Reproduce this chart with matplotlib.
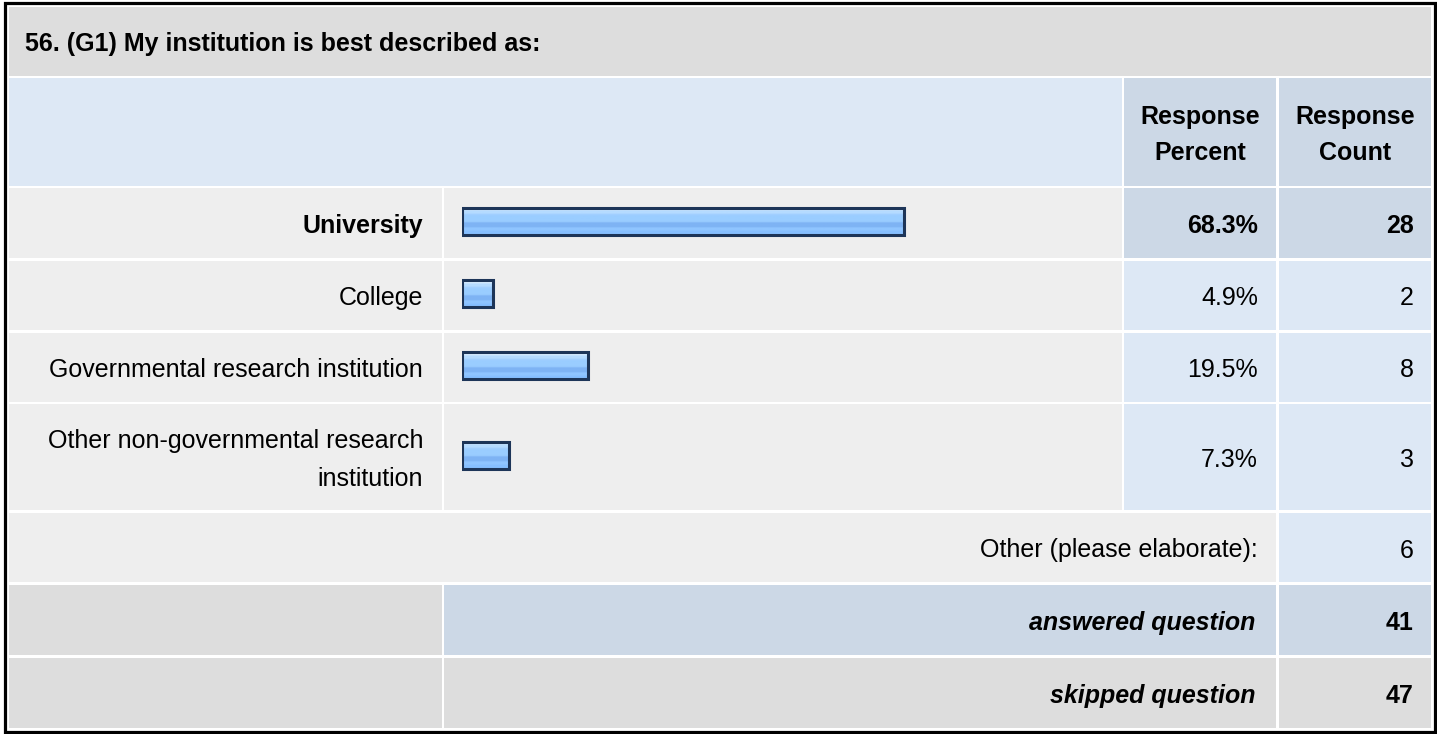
import matplotlib
matplotlib.use("Agg")
import matplotlib.pyplot as plt
from matplotlib.patches import Rectangle
import numpy as np

# ---- data ----
title = "56. (G1) My institution is best described as:"
categories = ["University", "College", "Governmental research institution",
              "Other non-governmental research\ninstitution"]
percents = [68.3, 4.9, 19.5, 7.3]
counts = [28, 2, 8, 3]
highlight = [True, False, False, False]
other_label = "Other (please elaborate):"
other_count = 6
answered = 41
skipped = 47
header_percent = "Response\nPercent"
header_count = "Response\nCount"

# ---- style ----
W, H = 1437, 734
FONT = "Liberation Sans"
FS = 18
GRAY = "#dddddd"
LIGHT = "#eeeeee"
BLUE_L = "#dde8f5"
BLUE_D = "#ccd8e6"
NAVY = "#1d3558"
DY = 3  # text vertical offset

plt.rcParams['font.family'] = [FONT, 'DejaVu Sans']

fig = plt.figure(figsize=(W / 100, H / 100), dpi=100)
fig.patch.set_facecolor("white")
ax = fig.add_axes([0, 0, 1, 1])
ax.set_xlim(0, W)
ax.set_ylim(H, 0)
ax.axis("off")


def cell(x0, x1, y0, y1, color):
    ax.add_patch(Rectangle((x0, y0), x1 - x0, y1 - y0, facecolor=color,
                           edgecolor="none", zorder=1))


# column edges
A0, A1 = 9, 441.7
B0, B1 = 444, 1121.7
C0, C1 = 1124, 1276
D0, D1 = 1279, 1431

# rows
title_row = (6.7, 76)
header_row = (78, 186)
data_rows = [(188, 258), (260.5, 330), (332.5, 401.7), (404, 510)]
other_row = (512.7, 582.3)
answered_row = (585, 655)
skipped_row = (657.5, 727.7)

# outer border
ax.add_patch(Rectangle((4.5, 3.2), 1430, 728.3, facecolor="none",
                       edgecolor="black", linewidth=2.3, zorder=5))

# title
cell(A0, D1, *title_row, GRAY)
ax.text(25, (title_row[0] + title_row[1]) / 2, title, fontsize=FS,
        fontweight="bold", ha="left", va="center_baseline", zorder=6)

# header
cell(A0, B1, *header_row, BLUE_L)
cell(C0, C1, *header_row, BLUE_D)
cell(D0, D1, *header_row, BLUE_D)
hy = (header_row[0] + header_row[1]) / 2 + 3
ax.text((C0 + C1) / 2, hy, header_percent, fontsize=FS, fontweight="bold",
        ha="center", va="center", multialignment="center", linespacing=1.6, zorder=6)
ax.text((D0 + D1) / 2, hy, header_count, fontsize=FS, fontweight="bold",
        ha="center", va="center", multialignment="center", linespacing=1.6, zorder=6)

# data rows
for (y0, y1), lab, p, c, hl in zip(data_rows, categories, percents, counts, highlight):
    cy = (y0 + y1) / 2 + DY
    cell(A0, A1, y0, y1, LIGHT)
    cell(B0, B1, y0, y1, LIGHT)
    col = BLUE_D if hl else BLUE_L
    cell(C0, C1, y0, y1, col)
    cell(D0, D1, y0, y1, col)
    fw = "bold" if hl else "normal"
    ax.text(423, cy, lab, fontsize=FS, fontweight=fw, ha="right",
            va="center", multialignment="right", linespacing=1.7, zorder=6)
    ax.text(1258, cy, f"{p:.1f}%", fontsize=FS, fontweight=fw, ha="right",
            va="center", zorder=6)
    ax.text(1414, cy, f"{c}", fontsize=FS, fontweight=fw, ha="right",
            va="center", zorder=6)

# other row
oy = (other_row[0] + other_row[1]) / 2 + DY
cell(A0, C1, *other_row, LIGHT)
cell(D0, D1, *other_row, BLUE_L)
ax.text(1258, oy, other_label, fontsize=FS, ha="right", va="center", zorder=6)
ax.text(1414, oy, f"{other_count}", fontsize=FS, ha="right", va="center", zorder=6)

# answered
ay = (answered_row[0] + answered_row[1]) / 2 + DY
cell(A0, A1, *answered_row, GRAY)
cell(B0, C1, *answered_row, BLUE_D)
cell(D0, D1, *answered_row, BLUE_D)
ax.text(1255, ay, "answered question", fontsize=FS, fontweight="bold",
        fontstyle="italic", ha="right", va="center", zorder=6)
ax.text(1414, ay, f"{answered}", fontsize=FS, fontweight="bold", ha="right",
        va="center", zorder=6)

# skipped
sy = (skipped_row[0] + skipped_row[1]) / 2 + DY
cell(A0, A1, *skipped_row, GRAY)
cell(B0, C1, *skipped_row, GRAY)
cell(D0, D1, *skipped_row, GRAY)
ax.text(1255, sy, "skipped question", fontsize=FS, fontweight="bold",
        fontstyle="italic", ha="right", va="center", zorder=6)
ax.text(1414, sy, f"{skipped}", fontsize=FS, fontweight="bold", ha="right",
        va="center", zorder=6)

# ---- bars ----
bx0 = 461.5
bscale = 648
axb = fig.add_axes([bx0 / W, 0, bscale / W, 1])
axb.set_xlim(0, 100)
axb.set_ylim(H, 0)
axb.axis("off")
axb.patch.set_alpha(0)

bar_y = [(y0 + y1) / 2 - 2 for (y0, y1) in data_rows]
bar_h = 27
bars = axb.barh(bar_y, percents, height=bar_h, left=0, facecolor="none",
                edgecolor=NAVY, linewidth=2.2, zorder=4)

stripe_cols = ["#d6ebff", "#d6ebff", "#b5dbff", "#b5dbff", "#a0cfff", "#9acdff",
               "#9acdff", "#9acdff", "#99ccff", "#7eb3f4", "#7eb3f4", "#7eb3f4",
               "#8fc5ff", "#8fc5ff", "#86bfff", "#86bfff"]
grad = np.array([matplotlib.colors.to_rgb(c) for c in stripe_cols])[:, None, :]
for b in bars:
    x0, y0 = b.get_x(), b.get_y()
    w, h = b.get_width(), b.get_height()
    im = axb.imshow(grad, extent=(x0, x0 + w, y0 + h, y0), origin="upper",
                    aspect="auto", interpolation="bilinear", zorder=3)
    im.set_clip_path(b)
axb.set_xlim(0, 100)
axb.set_ylim(H, 0)

fig.savefig("out.png", dpi=100, facecolor="white")
